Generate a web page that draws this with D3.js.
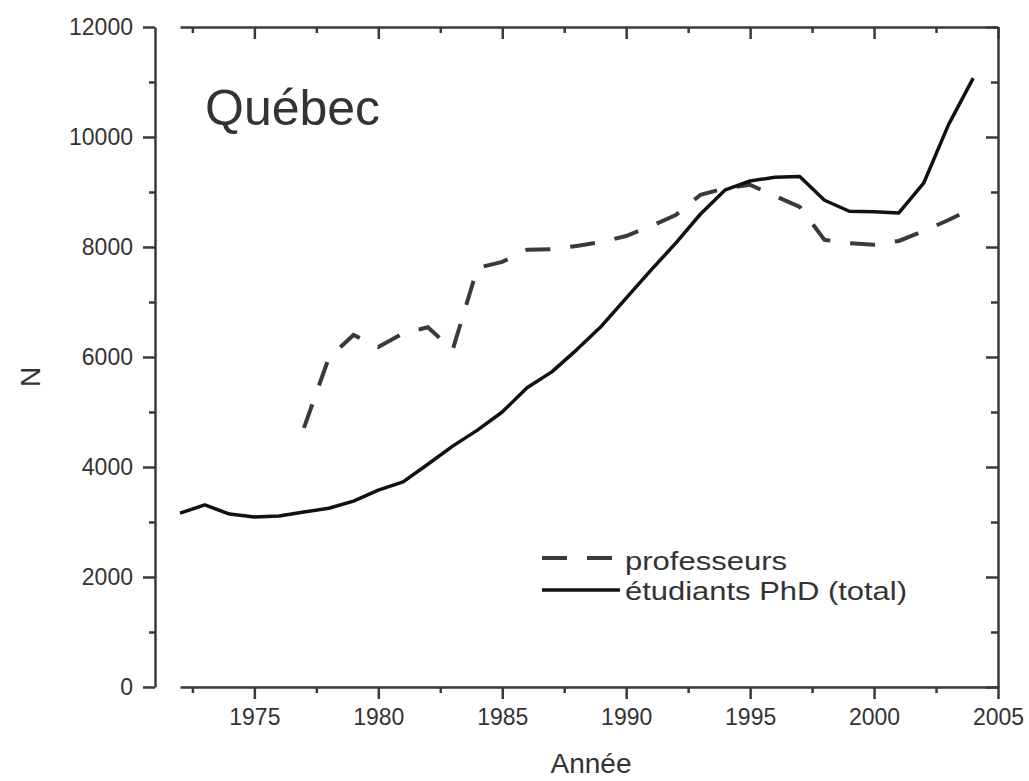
<!DOCTYPE html>
<html lang="fr">
<head>
  <meta charset="UTF-8">
  <title>Québec</title>
  <style>
    body {
      margin: 0;
      background: #fff;
    }

    svg text {
      font-family: "Liberation Sans", Arial, sans-serif;
      fill: #333;
    }

    .axis path,
    .axis line {
      stroke: #3a3a3a;
      stroke-width: 2.5;
    }
  </style>
</head>
<body>
  <svg id="chart"></svg>

  <script src="https://d3js.org/d3.v7.min.js"></script>
  <script>
    const years = [1972, 1973, 1974, 1975, 1976, 1977, 1978, 1979, 1980, 1981, 1982,
      1983, 1984, 1985, 1986, 1987, 1988, 1989, 1990, 1991, 1992, 1993,
      1994, 1995, 1996, 1997, 1998, 1999, 2000, 2001, 2002, 2003, 2004];

    // étudiants PhD (total), 1972-2004
    const phdStudents = [3160, 3310, 3145, 3090, 3110, 3180, 3250, 3380, 3580, 3730, 4050,
      4380, 4670, 5000, 5440, 5730, 6130, 6560, 7070, 7580, 8070, 8600,
      9040, 9200, 9270, 9280, 8850, 8650, 8640, 8620, 9160, 10220, 11070];

    // professeurs, starts in 1977
    const profYears = years.slice(5);
    const professors = [4710, 5980, 6400, 6180, 6430, 6540, 6130, 7620, 7730, 7950,
      7960, 8020, 8090, 8200, 8380, 8580, 8950, 9070, 9130, 8930, 8730, 8130,
      8070, 8040, 8110, 8290, 8490, 8710];

    const yMajor = [0, 2000, 4000, 6000, 8000, 10000, 12000];
    const yMinor = [1000, 3000, 5000, 7000, 9000, 11000];
    const xMajor = [1975, 1980, 1985, 1990, 1995, 2000, 2005];
    const xMinor = [1972.5, 1977.5, 1982.5, 1987.5, 1992.5, 1997.5, 2002.5];

    const width = 1029, height = 781;
    const svg = d3.select("#chart").attr("width", width).attr("height", height);

    const x = d3.scaleLinear().domain([1972, 2005]).range([180, 998]);
    const y = d3.scaleLinear().domain([0, 12000]).range([687, 27]);

    function noLabels() { return ""; }

    // left axis (offset from the plot, outward ticks)
    const leftAxis = svg.append("g").attr("class", "axis").attr("transform", "translate(155,0)");
    leftAxis.call(d3.axisLeft(y).tickValues(yMajor).tickSize(12).tickSizeOuter(0).tickPadding(10).tickFormat(d3.format("d")));
    leftAxis.append("g").call(d3.axisLeft(y).tickValues(yMinor).tickSize(6).tickFormat(noLabels))
      .select(".domain").remove();

    // right axis, inward ticks
    const rightAxis = svg.append("g").attr("class", "axis").attr("transform", "translate(998,0)");
    rightAxis.call(d3.axisRight(y).tickValues(yMajor).tickSize(-12).tickSizeOuter(0).tickFormat(noLabels));
    rightAxis.append("g").call(d3.axisRight(y).tickValues(yMinor).tickSize(-7).tickFormat(noLabels))
      .select(".domain").remove();

    // bottom axis, outward ticks
    const bottomAxis = svg.append("g").attr("class", "axis").attr("transform", "translate(0,687)");
    bottomAxis.call(d3.axisBottom(x).tickValues(xMajor).tickSize(12).tickSizeOuter(0).tickPadding(10).tickFormat(d3.format("d")));
    bottomAxis.append("g").call(d3.axisBottom(x).tickValues(xMinor).tickSize(6).tickFormat(noLabels))
      .select(".domain").remove();

    // top axis, inward ticks
    const topAxis = svg.append("g").attr("class", "axis").attr("transform", "translate(0,27)");
    topAxis.call(d3.axisTop(x).tickValues(xMajor).tickSize(-12).tickSizeOuter(0).tickFormat(noLabels));
    topAxis.append("g").call(d3.axisTop(x).tickValues(xMinor).tickSize(-6).tickFormat(noLabels))
      .select(".domain").remove();

    svg.selectAll(".axis text")
      .style("font-size", "23px")
      .attr("fill", "#333");

    // series
    const line = d3.line().x(d => x(d[0])).y(d => y(d[1]));

    svg.append("path")
      .datum(profYears.map((yr, i) => [yr, professors[i]]))
      .attr("fill", "none")
      .attr("stroke", "#3a3a3a")
      .attr("stroke-width", 4)
      .attr("stroke-dasharray", "25,20")
      .attr("d", line);

    svg.append("path")
      .datum(years.map((yr, i) => [yr, phdStudents[i]]))
      .attr("fill", "none")
      .attr("stroke", "#111")
      .attr("stroke-width", 3.5)
      .attr("stroke-linejoin", "round")
      .attr("d", line);

    // titles
    svg.append("text")
      .attr("x", 205).attr("y", 125)
      .style("font-size", "50px")
      .attr("fill", "#111")
      .text("Québec");

    svg.append("text")
      .attr("x", 591).attr("y", 773)
      .attr("text-anchor", "middle")
      .style("font-size", "28px")
      .text("Année");

    svg.append("text")
      .attr("transform", "translate(40,377) rotate(-90)")
      .attr("text-anchor", "middle")
      .style("font-size", "28px")
      .text("N");

    // legend (text in the original is drawn wide, so stretch it to the same length)
    const legend = svg.append("g");
    legend.append("line")
      .attr("x1", 542).attr("x2", 615).attr("y1", 558).attr("y2", 558)
      .attr("stroke", "#3a3a3a").attr("stroke-width", 4).attr("stroke-dasharray", "25,20");
    legend.append("text")
      .attr("x", 625).attr("y", 570)
      .style("font-size", "26px")
      .attr("textLength", 162).attr("lengthAdjust", "spacingAndGlyphs")
      .text("professeurs");
    legend.append("line")
      .attr("x1", 542).attr("x2", 620).attr("y1", 590).attr("y2", 590)
      .attr("stroke", "#111").attr("stroke-width", 3.5);
    legend.append("text")
      .attr("x", 625).attr("y", 600)
      .style("font-size", "26px")
      .attr("textLength", 282).attr("lengthAdjust", "spacingAndGlyphs")
      .text("étudiants PhD (total)");
  </script>
</body>
</html>
